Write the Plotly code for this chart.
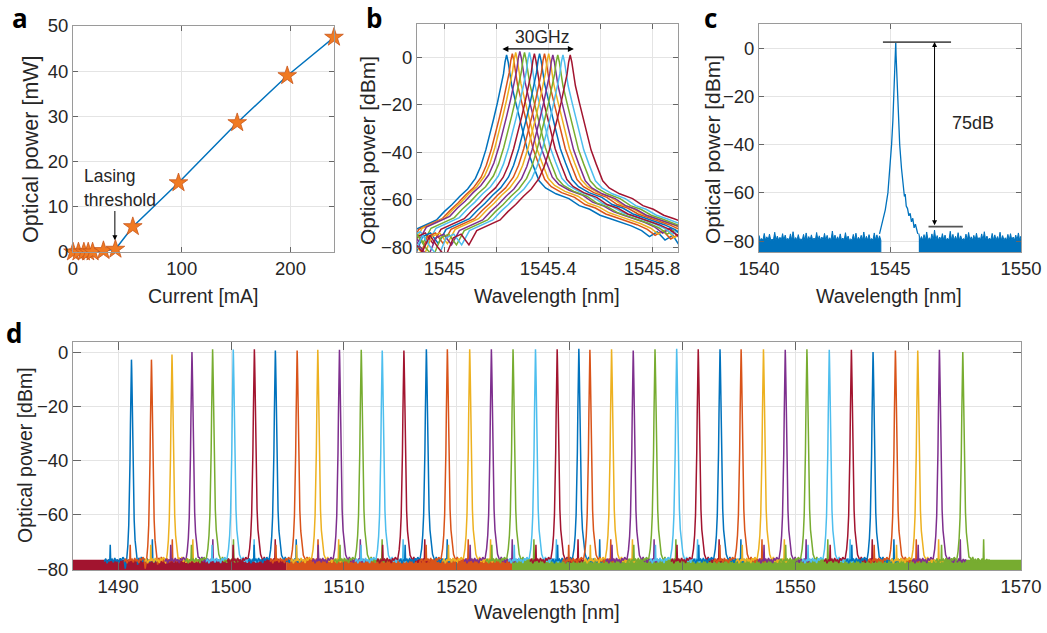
import plotly.graph_objects as go

W, H = 1047, 633
FONT = "Liberation Sans, Arial, sans-serif"
COLORS = ['#0072BD', '#D95319', '#EDB120', '#7E2F8E', '#77AC30', '#4DBEEE', '#A2142F']

# ---------------- data ----------------
# panel a: L-I curve
A_CURRENT = [0, 5, 10, 14, 18, 28, 39, 55, 97, 151, 197, 240]
A_POWER = [0, 0, 0, 0, 0, 0.3, 0.6, 5.6, 15.3, 28.6, 39.0, 47.5]

# panel b: tuned spectra (peak wavelength, peak power) and the common line shape
B_CENTERS = [1545.240, 1545.262, 1545.275, 1545.291, 1545.309, 1545.328, 1545.347,
             1545.367, 1545.386, 1545.402, 1545.418, 1545.437, 1545.457, 1545.485]
B_PEAKS = [1.0, 1.5, 2.0, 2.5, 2.0, 2.0, 1.5, 1.5, 1.5, 1.5, 1.0, 1.0, 1.0, 1.0]
B_OFFSETS = [-0.60, -0.57, -0.54, -0.51, -0.48, -0.45, -0.42, -0.39, -0.36, -0.33,
             -0.30, -0.27, -0.24, -0.21, -0.18, -0.15, -0.12, -0.10, -0.08, -0.065,
             -0.05, -0.035, -0.02, -0.012, -0.006, 0.0,
             0.006, 0.012, 0.02, 0.035, 0.05, 0.065, 0.08, 0.10, 0.125, 0.15,
             0.19, 0.24, 0.28, 0.32, 0.36, 0.40, 0.44, 0.48, 0.52, 0.55,
             0.58, 0.61, 0.64, 0.67, 0.70]
B_SHAPE = [-79, -83, -76, -81, -85, -77, -75.5, -80, -74, -72.5,
           -71, -69.5, -66, -63, -59.5, -56.5, -52, -47, -40, -34,
           -27, -20, -13, -8, -3, 0,
           -3, -8, -13, -20, -27, -34, -40, -46, -53, -56,
           -58.5, -60.5, -63.5, -65, -67.5, -69, -70.5, -72, -74, -76.5,
           -74.5, -78, -76, -81, -77]

# panel c: single-mode spectrum
C_CENTER = 1545.22
C_PEAK = 2.5
C_OFFSETS = [-0.62, -0.5, -0.4, -0.3, -0.22, -0.16, -0.11, -0.07, -0.035, -0.012, 0,
             0.012, 0.035, 0.07, 0.11, 0.15, 0.22, 0.26, 0.30, 0.33, 0.36,
             0.40, 0.45, 0.50, 0.55, 0.60, 0.65, 0.70, 0.75, 0.80, 0.84]
C_SHAPE = [-79.5, -74.5, -69.5, -62.5, -52.5, -42.5, -32.5, -22.5, -12.5, -5.5, 0,
           -5.5, -12.5, -22.5, -32.5, -42.5, -52.5, -58, -61, -64, -63,
           -68, -69, -72, -71, -74.5, -73, -77, -75.5, -78.5, -79.5]
C_FLOOR_L_START, C_FLOOR_R_START, C_FLOOR_STEP = 1540.0, 1546.1, 0.1
C_FLOOR_L = [-77.6, -78.9, -76.8, -78.2, -77.1, -79.2, -76.3, -77.9, -78.4, -76.9,
             -77.5, -78.8, -77.0, -76.1, -78.5, -77.3, -79.0, -77.2, -76.6, -78.1,
             -77.4, -78.7, -76.4, -77.8, -78.3, -76.8, -77.6, -78.6, -75.8, -77.5,
             -78.2, -77.0, -78.7, -76.5, -77.9, -79.1, -77.2, -76.7, -78.4, -77.6,
             -76.2, -78.0, -77.3, -78.9, -76.6, -77.4, -77.8]
C_FLOOR_R = [-76.8, -78.1, -77.3, -76.2, -78.6, -77.0, -75.4, -77.7, -78.3, -76.9,
             -77.5, -78.8, -75.9, -77.2, -78.0, -76.5, -77.8, -78.9, -77.1, -76.4,
             -78.2, -77.6, -76.7, -78.5, -77.0, -76.1, -77.9, -78.7, -76.8, -77.4,
             -78.1, -76.3, -77.7, -78.6, -77.2, -76.9, -78.3, -77.5, -76.6, -77.9]
C_FLOOR_VALLEY = -79.6
C_TOP_LINE = [1544.73, 1547.33]
C_BOTTOM_LINE = [1546.47, 1547.78]
C_BOTTOM_LEVEL = -74.0
C_ARROW_X = 1546.7

# panel d: 40-channel comb
D_CENTERS = [1491.18, 1492.95, 1494.77, 1496.54, 1498.37, 1500.20, 1502.07, 1503.93,
             1505.86, 1507.69, 1509.61, 1511.54, 1513.40, 1515.32, 1517.31, 1519.17,
             1521.15, 1523.07, 1524.99, 1526.98, 1528.90, 1530.82, 1531.80, 1533.72,
             1535.64, 1537.57, 1539.49, 1541.40, 1543.33, 1545.20, 1547.18, 1549.11,
             1551.03, 1553.01, 1554.97, 1556.89, 1558.87, 1560.85, 1562.77, 1564.84]
D_PEAKS = [-2.8, -2.8, -0.9, 0, 1, 0.9, 1, 0.6, 0.6, 0.8, 0.8,
           0.8, 0.6, 0.6, 1, 1, 1, 1, 1, 1, 1, 1.2, 0.8, 1, 0.6, 1, 1.2,
           1, 1, 1, 1, 0.8, 1, 0.8, 0.8, 0, 0.6, 0.6, 0.8, 0]
D_CORE_OFF = [-0.55, -0.42, -0.32, -0.24, -0.18, -0.13, -0.09, -0.05, -0.02, 0,
              0.02, 0.05, 0.09, 0.13, 0.18, 0.24, 0.32, 0.42, 0.55]
D_CORE_REL = [-77, -73.5, -68.5, -61, -51, -38, -24, -10, -3, 0,
              -3, -10, -23, -36, -49, -59, -66.5, -71.5, -75.5]
D_TAIL_OFF = [-2.40, -2.28, -2.16, -2.04, -1.92, -1.88, -1.84, -1.72, -1.60, -1.48,
              -1.36, -1.24, -1.12, -1.00, -0.88, -0.76, -0.66,
              0.66, 0.76, 0.88, 1.00, 1.12, 1.24, 1.36, 1.48, 1.60, 1.72,
              1.81, 1.85, 1.89, 2.00, 2.12, 2.24, 2.36]
D_TAIL_DB = [-77.2, -76.1, -77.8, -76.6, -77.0, -71.0, -76.9, -76.3, -77.5, -75.9,
             -77.1, -76.4, -77.7, -76.0, -76.8, -75.6, -76.2,
             -75.8, -76.9, -75.5, -77.3, -76.2, -77.6, -76.0, -76.8, -77.4, -76.1,
             -77.0, -69.0, -76.7, -77.5, -76.3, -77.1, -76.4]
D_BAND_EDGES = [1486.0, 1504.9, 1524.9, 1570.0]
D_BAND_COLORS = ['#A2142F', '#D95319', '#77AC30']
D_BAND_TOP = -76.6

# ---------------- figure ----------------
fig = go.Figure()

# panel a
fig.add_trace(go.Scatter(x=A_CURRENT, y=A_POWER, mode='lines+markers', xaxis='x', yaxis='y',
                         line=dict(color=COLORS[0], width=1.5),
                         marker=dict(symbol='star', size=14, color='#F07A22',
                                     line=dict(color='#C8561A', width=0.8)),
                         cliponaxis=False, showlegend=False))

# panel b
for i, (c, p) in enumerate(zip(B_CENTERS, B_PEAKS)):
    fig.add_trace(go.Scatter(x=[c + o for o in B_OFFSETS], y=[p + s for s in B_SHAPE],
                             mode='lines', xaxis='x2', yaxis='y2',
                             line=dict(color=COLORS[i % 7], width=1.5), showlegend=False))

# panel c
def noise_poly(start, step, tops, valley, bottom=-95):
    xs, ys = [], []
    for k, t in enumerate(tops):
        x = start + step * k
        xs += [x, x + step / 2]
        ys += [t, valley]
    return xs + [xs[-1], xs[0]], ys + [bottom, bottom]

for start, tops in ((C_FLOOR_L_START, C_FLOOR_L), (C_FLOOR_R_START, C_FLOOR_R)):
    px, py = noise_poly(start, C_FLOOR_STEP, tops, C_FLOOR_VALLEY)
    fig.add_trace(go.Scatter(x=px, y=py, mode='lines', fill='toself', fillcolor=COLORS[0],
                             line=dict(color=COLORS[0], width=1), xaxis='x3', yaxis='y3',
                             showlegend=False))
fig.add_trace(go.Scatter(x=[C_CENTER + o for o in C_OFFSETS], y=[C_PEAK + s for s in C_SHAPE],
                         mode='lines', line=dict(color=COLORS[0], width=1.3),
                         xaxis='x3', yaxis='y3', showlegend=False))
fig.add_trace(go.Scatter(x=C_TOP_LINE, y=[C_PEAK, C_PEAK], mode='lines',
                         line=dict(color='#555555', width=1.6), xaxis='x3', yaxis='y3',
                         showlegend=False, cliponaxis=False))
fig.add_trace(go.Scatter(x=C_BOTTOM_LINE, y=[C_BOTTOM_LEVEL, C_BOTTOM_LEVEL], mode='lines',
                         line=dict(color='#555555', width=1.6), xaxis='x3', yaxis='y3',
                         showlegend=False))

# panel d
for k in range(3):
    x0, x1 = D_BAND_EDGES[k], D_BAND_EDGES[k + 1]
    fig.add_trace(go.Scatter(x=[x0, x1, x1, x0], y=[D_BAND_TOP, D_BAND_TOP, -95, -95],
                             mode='lines', fill='toself', fillcolor=D_BAND_COLORS[k],
                             line=dict(color=D_BAND_COLORS[k], width=0.5),
                             xaxis='x4', yaxis='y4', showlegend=False))
for i, (c, p) in enumerate(zip(D_CENTERS, D_PEAKS)):
    pts = [(o, p + r) for o, r in zip(D_CORE_OFF, D_CORE_REL)] + list(zip(D_TAIL_OFF, D_TAIL_DB))
    pts.sort()
    fig.add_trace(go.Scatter(x=[c + o for o, _ in pts], y=[v for _, v in pts], mode='lines',
                             line=dict(color=COLORS[i % 7], width=1.5),
                             xaxis='x4', yaxis='y4', showlegend=False))

def px2x(v):
    return v / W

def py2y(v):
    return 1 - v / H

common = dict(showline=True, linecolor='#9a9a9a', linewidth=1, mirror='ticks', ticks='inside',
              ticklen=5, tickcolor='#666666', showgrid=True, gridcolor='#e4e4e4', gridwidth=1,
              zeroline=False, automargin=False,
              tickfont=dict(family=FONT, size=18.5, color='#262626'))

fig.update_layout(
    template='none',
    width=W, height=H, autosize=False, margin=dict(l=0, r=0, t=0, b=0, pad=0),
    paper_bgcolor='white', plot_bgcolor='white', showlegend=False,
    font=dict(family=FONT, color='#262626'),
    xaxis=dict(domain=[px2x(73), px2x(334)], range=[0, 240], tickvals=[0, 100, 200],
               anchor='y', **common),
    yaxis=dict(domain=[py2y(252), py2y(26)], range=[0, 50], tickvals=[0, 10, 20, 30, 40, 50],
               anchor='x', **common),
    xaxis2=dict(domain=[px2x(417), px2x(678)], range=[1544.895, 1545.9],
                tickvals=[1545, 1545.2, 1545.4, 1545.6, 1545.8],
                ticktext=['1545', '', '1545.4', '', '1545.8'], anchor='y2', **common),
    yaxis2=dict(domain=[py2y(252), py2y(24)], range=[-82, 14], tickvals=[-80, -60, -40, -20, 0],
                anchor='x2', **common),
    xaxis3=dict(domain=[px2x(759), px2x(1021)], range=[1540, 1550], tickvals=[1540, 1545, 1550],
                anchor='y3', **common),
    yaxis3=dict(domain=[py2y(252), py2y(24)], range=[-84.5, 10], tickvals=[-80, -60, -40, -20, 0],
                anchor='x3', **common),
    xaxis4=dict(domain=[px2x(73), px2x(1021)], range=[1486, 1570],
                tickvals=[1490, 1500, 1510, 1520, 1530, 1540, 1550, 1560, 1570],
                anchor='y4', **{**common, 'ticklen': 8}),
    yaxis4=dict(domain=[py2y(570), py2y(342)], range=[-80.3, 3.7],
                tickvals=[-80, -60, -40, -20, 0], anchor='x4', **{**common, 'ticklen': 8}),
)

def label(text, x, y, size=20, angle=0, bold=False, family=FONT, xanchor='center'):
    fig.add_annotation(text=text, xref='paper', yref='paper', x=px2x(x), y=py2y(y),
                       showarrow=False, textangle=angle, xanchor=xanchor, yanchor='middle',
                       font=dict(family=family, size=size, color='#262626' if not bold else 'black',
                                 weight='bold' if bold else 'normal'))

# axis titles
label('Current [mA]', 203.5, 296, size=19.5)
label('Wavelength [nm]', 547, 296, size=19.5)
label('Wavelength [nm]', 889, 296, size=19.5)
label('Wavelength [nm]', 547, 612, size=19.5)
label('Optical power [mW]', 31, 149, size=21.5, angle=-90)
label('Optical power [dBm]', 367, 151, size=21, angle=-90)
label('Optical power [dBm]', 712, 150, size=21, angle=-90)
label('Optical power [dBm]', 25, 455, size=19.5, angle=-90)

# panel letters
LETTER_FONT = 'Open Sans, Liberation Sans, sans-serif'
label('a', 20, 18, size=26, bold=True, family=LETTER_FONT)
label('b', 374, 18, size=26, bold=True, family=LETTER_FONT)
label('c', 710, 18, size=26, bold=True, family=LETTER_FONT)
label('d', 14, 333, size=26, bold=True, family=LETTER_FONT)

# panel a annotation
fig.add_annotation(text='Lasing', xref='x', yref='y', x=8.3, y=16.9, showarrow=False,
                   xanchor='left', yanchor='middle', font=dict(family=FONT, size=17.5, color='#262626'))
fig.add_annotation(text='threshold', xref='x', yref='y', x=8.3, y=11.6, showarrow=False,
                   xanchor='left', yanchor='middle', font=dict(family=FONT, size=17.5, color='#262626'))
fig.add_annotation(text='', xref='x', yref='y', axref='x', ayref='y', x=38.5, y=2.6, ax=38.5, ay=9.4,
                   showarrow=True, arrowhead=2, arrowsize=1, arrowwidth=1, arrowcolor='black')

# panel b annotation
fig.add_annotation(text='', xref='x2', yref='y2', axref='x2', ayref='y2', x=1545.499, y=3.5,
                   ax=1545.218, ay=3.5, showarrow=True, arrowhead=2, startarrowhead=2,
                   arrowside='end+start', arrowsize=1, arrowwidth=1.2, arrowcolor='black')
fig.add_annotation(text='30GHz', xref='x2', yref='y2', x=1545.376, y=8.6, showarrow=False,
                   font=dict(family=FONT, size=17.5, color='#262626'))

# panel c annotation
fig.add_annotation(text='', xref='x3', yref='y3', axref='x3', ayref='y3', x=C_ARROW_X, y=C_PEAK,
                   ax=C_ARROW_X, ay=C_BOTTOM_LEVEL, showarrow=True, arrowhead=2, startarrowhead=2,
                   arrowside='end+start', arrowsize=1, arrowwidth=1, arrowcolor='black')
fig.add_annotation(text='75dB', xref='x3', yref='y3', x=1548.16, y=-31.2, showarrow=False,
                   font=dict(family=FONT, size=18, color='#262626'))

fig.write_html("out.html", config={'displayModeBar': False},
               post_script="document.body.style.margin='0';")
